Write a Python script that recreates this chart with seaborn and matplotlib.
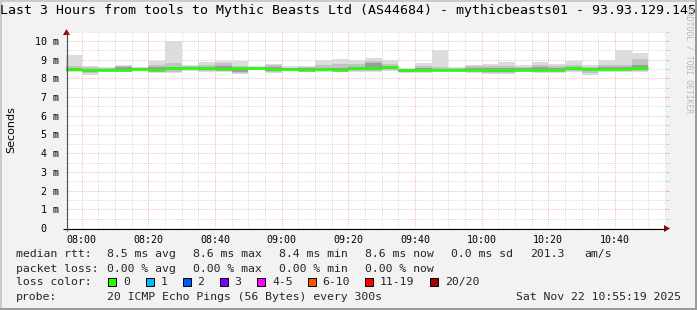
import matplotlib
matplotlib.use("Agg")
import matplotlib.pyplot as plt
import seaborn as sns
import pandas as pd
from matplotlib.patches import Rectangle, Polygon
from matplotlib.ticker import FixedLocator, MultipleLocator

# ---------------- data ----------------
interval_start = ["07:55", "08:00", "08:05", "08:10", "08:15", "08:20", "08:25",
                  "08:30", "08:35", "08:40", "08:45", "08:50", "08:55", "09:00",
                  "09:05", "09:10", "09:15", "09:20", "09:25", "09:30", "09:35",
                  "09:40", "09:45", "09:50", "09:55", "10:00", "10:05", "10:10",
                  "10:15", "10:20", "10:25", "10:30", "10:35", "10:40", "10:45"]
# milliseconds (axis shows "m" = milli-seconds)
median_ms = [8.48, 8.43, 8.47, 8.43, 8.52, 8.45, 8.54, 8.54, 8.54, 8.50, 8.54, 8.54,
             8.50, 8.50, 8.46, 8.50, 8.46, 8.54, 8.55, 8.59, 8.43, 8.45, 8.45, 8.45,
             8.46, 8.46, 8.43, 8.46, 8.45, 8.46, 8.54, 8.52, 8.52, 8.52, 8.57]
max_ms = [9.27, 8.68, 8.63, 8.73, 8.63, 8.91, 9.98, 8.70, 8.89, 8.95, 8.91, 8.66,
          8.79, 8.64, 8.64, 8.98, 9.05, 8.98, 9.11, 8.98, 8.56, 8.84, 9.52, 8.59,
          8.73, 8.79, 8.86, 8.70, 8.89, 8.79, 8.95, 8.70, 8.96, 9.52, 9.37]
min_ms = [8.32, 8.20, 8.36, 8.32, 8.40, 8.30, 8.28, 8.41, 8.32, 8.36, 8.24, 8.43,
          8.28, 8.38, 8.36, 8.36, 8.36, 8.36, 8.32, 8.40, 8.30, 8.26, 8.36, 8.34,
          8.30, 8.22, 8.24, 8.32, 8.30, 8.30, 8.36, 8.20, 8.36, 8.36, 8.32]
p90_ms = [8.64, 8.60, 8.58, 8.68, 8.58, 8.72, 8.80, 8.65, 8.72, 8.80, 8.66, 8.60,
          8.70, 8.58, 8.60, 8.70, 8.75, 8.78, 8.95, 8.78, 8.52, 8.66, 8.60, 8.54,
          8.64, 8.68, 8.68, 8.62, 8.72, 8.66, 8.74, 8.60, 8.74, 8.70, 9.05]
p75_ms = [8.56, 8.50, 8.52, 8.60, 8.55, 8.62, 8.62, 8.60, 8.62, 8.66, 8.58, 8.57,
          8.60, 8.54, 8.56, 8.58, 8.58, 8.62, 8.80, 8.68, 8.48, 8.56, 8.52, 8.50,
          8.58, 8.56, 8.56, 8.56, 8.60, 8.58, 8.62, 8.58, 8.62, 8.60, 8.70]
p25_ms = [8.42, 8.36, 8.42, 8.40, 8.47, 8.40, 8.45, 8.48, 8.45, 8.44, 8.32, 8.48,
          8.40, 8.45, 8.42, 8.44, 8.42, 8.45, 8.46, 8.50, 8.36, 8.38, 8.42, 8.40,
          8.40, 8.36, 8.36, 8.40, 8.38, 8.38, 8.46, 8.44, 8.44, 8.44, 8.45]
p10_ms = [8.38, 8.28, 8.40, 8.35, 8.44, 8.35, 8.36, 8.45, 8.38, 8.40, 8.28, 8.46,
          8.33, 8.42, 8.40, 8.40, 8.40, 8.40, 8.38, 8.45, 8.33, 8.32, 8.40, 8.38,
          8.36, 8.30, 8.30, 8.37, 8.34, 8.35, 8.42, 8.30, 8.40, 8.40, 8.38]

x_tick_labels = ["08:00", "08:20", "08:40", "09:00", "09:20", "09:40", "10:00", "10:20", "10:40"]
y_tick_values = [0, 1, 2, 3, 4, 5, 6, 7, 8, 9, 10]

title = "Last 3 Hours from tools to Mythic Beasts Ltd (AS44684) - mythicbeasts01 - 93.93.129.145"
median_row = ["8.5 ms avg", "8.6 ms max", "8.4 ms min", "8.6 ms now", "0.0 ms sd", "201.3", "am/s"]
loss_row = ["0.00 % avg", "0.00 % max", "0.00 % min", "0.00 % now"]
loss_labels = ["0", "1", "2", "3", "4-5", "6-10", "11-19", "20/20"]
loss_colors = ["#26ff00", "#00b8ff", "#0059ff", "#7e00ff", "#ff00ff", "#ff5500", "#ff0000", "#a10000"]
probe_text = "20 ICMP Echo Pings (56 Bytes) every 300s"
stamp_text = "Sat Nov 22 10:55:19 2025"

# ---------------- style ----------------
sns.set_style("white")
plt.rcParams["font.family"] = ["DejaVu Sans Mono", "DejaVu Sans"]

W, H = 697, 310
BACK = "#f2f2f2"
GRID = "#cdcdcd"
MGRID = "#f2a0a0"


def tomin(s):
    h, m = s.split(":")
    return int(h) * 60 + int(m)


STEP = 5
starts = [tomin(s) for s in interval_start]
xs = starts + [starts[-1] + STEP]

x0 = tomin("07:55") + 19 / 60.0
x1 = x0 + 180

fig = plt.figure(figsize=(W / 100, H / 100), dpi=100, facecolor=BACK)

L, R, T, B = 66, 666, 31.6, 228
ax = fig.add_axes([L / W, 1 - B / H, (R - L) / W, (B - T) / H])
ax.set_facecolor("white")
ax.set_xlim(x0, x1)
ax.set_ylim(0, 10.5)

# smoke
def ext(a):
    return list(a) + [a[-1]]

ax.fill_between(xs, ext(min_ms), ext(max_ms), step="post", color="#dcdcdc", lw=0, zorder=2)
ax.fill_between(xs, ext(p10_ms), ext(p90_ms), step="post", color="#c2c2c2", lw=0, zorder=3)
ax.fill_between(xs, ext(p25_ms), ext(p75_ms), step="post", color="#9c9c9c", lw=0, zorder=4)

# median segments (loss 0 -> green)
rows = []
for i, (s, m) in enumerate(zip(starts, median_ms)):
    rows.append({"t": s, "v": m, "u": i})
    rows.append({"t": s + STEP, "v": m, "u": i})
df = pd.DataFrame(rows)
sns.lineplot(data=df, x="t", y="v", units="u", estimator=None, color=loss_colors[0],
             lw=1.85, ax=ax, legend=False, zorder=6, solid_capstyle="butt")
ax.set_xlabel("")
ax.set_ylabel("")

# grid
maj_x = [tomin(s) for s in x_tick_labels]
ax.xaxis.set_major_locator(FixedLocator(maj_x))
ax.xaxis.set_minor_locator(MultipleLocator(5))
ax.yaxis.set_major_locator(FixedLocator(y_tick_values))
ax.yaxis.set_minor_locator(MultipleLocator(0.5))
dot = (0, (0.72, 1.44))
ax.grid(True, which="minor", color=GRID, lw=0.72, linestyle=dot)
ax.grid(True, which="major", color=MGRID, lw=0.72, linestyle=dot)
ax.set_axisbelow(True)

ax.set_xticklabels(x_tick_labels)
ax.set_yticklabels([("%d m" % v) if v > 0 else "0  " for v in y_tick_values])
ax.tick_params(axis="both", which="both", labelsize=7.2, labelcolor="black")
ax.tick_params(axis="x", which="major", direction="out", length=2.2, width=0.72, color=MGRID, pad=2.5)
ax.tick_params(axis="x", which="minor", direction="out", length=2.2, width=0.72, color=GRID)
ax.tick_params(axis="y", which="major", direction="out", length=2.2, width=0.72, color=MGRID, pad=2.5,
               right=True)
ax.tick_params(axis="y", which="minor", direction="out", length=2.2, width=0.72, color=GRID, right=True)
for sp in ax.spines.values():
    sp.set_visible(False)

# ---------------- overlay in pixel coordinates ----------------
ov = fig.add_axes([0, 0, 1, 1], zorder=10)
ov.set_xlim(0, W)
ov.set_ylim(H, 0)
ov.axis("off")
ov.patch.set_alpha(0)

# 3D frame
ov.plot([0.5, 0.5], [0, H], color="#cbcbcb", lw=1.44, solid_capstyle="butt")
ov.plot([0, W], [0.5, 0.5], color="#cbcbcb", lw=1.44, solid_capstyle="butt")
ov.plot([W - 1, W - 1], [0, H], color="#9a9a9a", lw=1.44, solid_capstyle="butt")
ov.plot([0, W], [H - 1, H - 1], color="#9a9a9a", lw=1.44, solid_capstyle="butt")

# axes lines and arrows
ov.plot([63, 665], [228.5, 228.5], color="black", lw=0.8, solid_capstyle="butt")
ov.plot([66.5, 66.5], [231, 33], color="#555555", lw=0.9, solid_capstyle="butt")
ov.add_patch(Polygon([[664, 225], [670, 228.5], [664, 232]], closed=True, color="#8a1010", lw=0))
ov.add_patch(Polygon([[63, 35], [66.5, 29], [70, 35]], closed=True, color="#8a1010", lw=0))

# texts
ov.text(348.5, 10.5, title, ha="center", va="center", fontsize=9.5, color="black")
ov.text(11, 130, "Seconds", rotation=90, ha="center", va="center", fontsize=8,
        family="DejaVu Sans", color="black")
ov.text(688.5, 60, "RRDTOOL / TOBI OETIKER", rotation=270, ha="center", va="center",
        fontsize=5.8, color="#b8b8b8")

FS = 8.25
ov.text(16, 254, "median rtt:", ha="left", va="center", fontsize=FS)
for s, x in zip(median_row, [107, 193, 279, 365, 451, 530, 584]):
    ov.text(x, 254, s, ha="left", va="center", fontsize=FS)
ov.text(16, 268.5, "packet loss:", ha="left", va="center", fontsize=FS)
for s, x in zip(loss_row, [107, 193, 279, 365]):
    ov.text(x, 268.5, s, ha="left", va="center", fontsize=FS)
ov.text(16, 282, "loss color:", ha="left", va="center", fontsize=FS)
for lab, col, x in zip(loss_labels, loss_colors, [108, 145.5, 182.5, 219.5, 257, 307.5, 365, 430]):
    ov.add_patch(Rectangle((x, 277.8), 8, 8, facecolor=col, edgecolor="black", lw=0.7))
    ov.text(x + 15, 282, lab, ha="left", va="center", fontsize=FS)
ov.text(16, 296.5, "probe:", ha="left", va="center", fontsize=FS)
ov.text(107, 296.5, probe_text, ha="left", va="center", fontsize=FS)
ov.text(681, 296.5, stamp_text, ha="right", va="center", fontsize=FS)

fig.savefig("out.png", dpi=100, facecolor=BACK)
